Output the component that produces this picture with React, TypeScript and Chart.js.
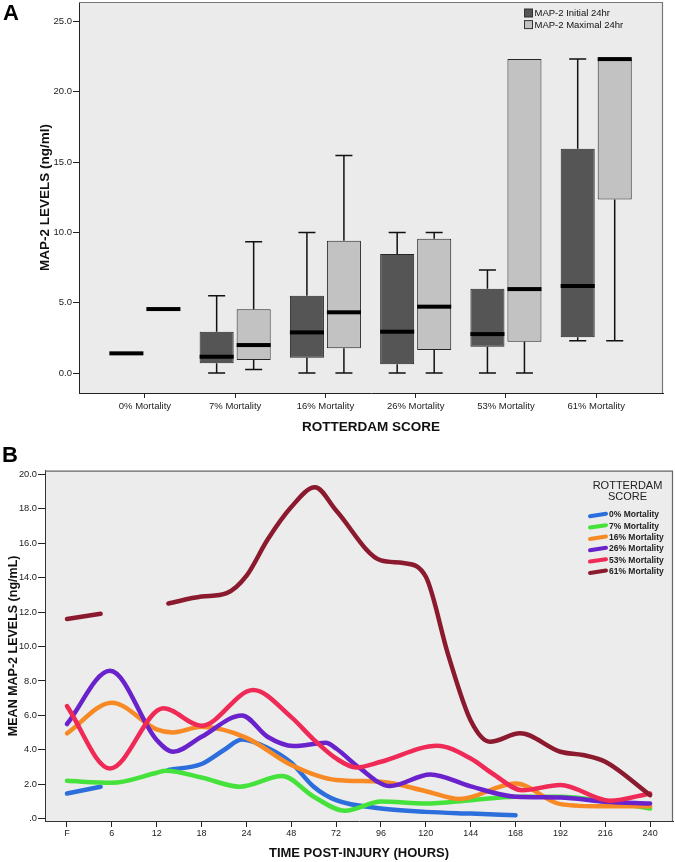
import React, { useEffect, useRef } from "react";
import { Chart, registerables } from "chart.js";

Chart.register(...registerables);

const FONT = "'Liberation Sans', Arial, Helvetica, sans-serif";

// ---------- Panel A : box plots ----------
const rotterdamCategories = ["0% Mortality", "7% Mortality", "16% Mortality", "26% Mortality", "53% Mortality", "61% Mortality"];
const initialMin = [1.4, 0.0, 0.0, 0.0, 0.0, 2.3];
const initialQ1 = [1.4, 0.69, 1.09, 0.62, 1.87, 2.54];
const initialMedian = [1.4, 1.16, 2.89, 2.94, 2.77, 6.19];
const initialQ3 = [1.4, 2.94, 5.5, 8.46, 6.0, 15.95];
const initialMax = [1.4, 5.5, 10.0, 10.0, 7.33, 22.33];
const maximalMin = [4.55, 0.26, 0.0, 0.0, 0.0, 2.3];
const maximalQ1 = [4.55, 0.92, 1.76, 1.64, 2.23, 12.35];
const maximalMedian = [4.55, 1.99, 4.32, 4.72, 5.97, 22.33];
const maximalQ3 = [4.55, 4.53, 9.41, 9.55, 22.33, 22.33];
const maximalMax = [4.55, 9.34, 15.48, 10.0, 22.33, 22.33];
const boxYTicks = [0, 5, 10, 15, 20, 25];
const boxSeriesLabels = ["MAP-2 Initial 24hr", "MAP-2 Maximal 24hr"];

// ---------- Panel B : mean levels over time ----------
const timeLabels = ["F", "6", "12", "18", "24", "48", "72", "96", "120", "144", "168", "192", "216", "240"];
const lineYTicks = [0, 2, 4, 6, 8, 10, 12, 14, 16, 18, 20];
const lineSeriesLabels = ["0% Mortality", "7% Mortality", "16% Mortality", "26% Mortality", "53% Mortality", "61% Mortality"];
const legendTitleLines = ["ROTTERDAM", "SCORE"];

const mort0Pos = [0, 0.75, 1.5, 2.26, 3, 3.5, 3.9, 4.5, 5, 5.5, 6, 7, 8, 9, 10];
const mort0Val = [1.47, 1.86, null, 2.83, 3.18, 3.99, 4.6, 4.08, 3.25, 1.86, 1.08, 0.6, 0.4, 0.3, 0.21];

const mort7Pos = [0, 1, 2, 2.2, 3, 3.85, 4.8, 5.5, 6.2, 7, 8, 9, 10, 11, 12, 13];
const mort7Val = [2.2, 2.09, 2.67, 2.79, 2.4, 1.86, 2.48, 1.28, 0.46, 1.0, 0.88, 1.08, 1.28, 1.28, 1.0, 0.6];

const mort16Pos = [0, 1, 2, 2.35, 3, 4, 5, 6, 7, 8, 8.75, 10, 11, 12, 13];
const mort16Val = [4.96, 6.74, 5.19, 5.01, 5.34, 4.7, 3.12, 2.25, 2.15, 1.6, 1.15, 2.05, 0.85, 0.72, 0.72];

const mort26Pos = [0, 0.96, 2, 2.37, 3, 3.9, 4.47, 5.05, 5.77, 6, 6.5, 7.2, 8.1, 9, 10, 11, 12, 13];
const mort26Val = [5.5, 8.59, 4.57, 3.89, 4.76, 6.0, 4.76, 4.22, 4.41, 4.08, 3.0, 1.9, 2.57, 1.88, 1.28, 1.24, 0.99, 0.89];

const mort53Pos = [0, 0.96, 2.15, 3, 4.15, 5, 5.5, 6, 6.45, 7, 8.25, 9, 9.5, 10.15, 11, 12.1, 13];
const mort53Val = [6.54, 2.92, 6.41, 5.4, 7.47, 5.9, 4.6, 3.5, 2.98, 3.31, 4.24, 3.5, 2.6, 1.66, 1.96, 1.05, 1.47];

const mort61Pos = [0, 0.75, 1.5, 2.26, 3, 3.56, 4, 4.47, 5, 5.53, 6, 7, 7.5, 8, 8.5, 9, 9.43, 10.1, 11, 11.5, 12, 13];
const mort61Val = [11.6, 11.9, null, 12.5, 12.9, 13.1, 14.1, 16.2, 18.1, 19.25, 17.9, 15.0, 14.85, 14.05, 9.5, 5.7, 4.47, 4.96, 3.89, 3.7, 3.31, 1.37];

const linePositions = [mort0Pos, mort7Pos, mort16Pos, mort26Pos, mort53Pos, mort61Pos];
const lineValues = [mort0Val, mort7Val, mort16Val, mort26Val, mort53Val, mort61Val];
const lineColors = ["#2c6fdc", "#44e23a", "#f78a24", "#6a22cc", "#f02a57", "#8c1a2e"];

// ---------- helpers ----------
const zeroPad = (s: any) => {
  s.paddingTop = 0;
  s.paddingBottom = 0;
  s.paddingLeft = 0;
  s.paddingRight = 0;
};

const bgPlugin = (fill: string) => ({
  id: "plotBg",
  beforeDraw(chart: any) {
    const { ctx, chartArea: a } = chart;
    ctx.save();
    ctx.fillStyle = "#ffffff";
    ctx.fillRect(0, 0, chart.width, chart.height);
    ctx.fillStyle = fill;
    ctx.fillRect(a.left, a.top, a.right - a.left, a.bottom - a.top);
    ctx.restore();
  },
});

const framePlugin = (color: string) => ({
  id: "plotFrame",
  afterDraw(chart: any) {
    const { ctx, chartArea: a } = chart;
    ctx.save();
    ctx.strokeStyle = color;
    ctx.lineWidth = 1.2;
    ctx.beginPath();
    ctx.moveTo(a.left, a.top + 0.5);
    ctx.lineTo(a.right - 0.5, a.top + 0.5);
    ctx.lineTo(a.right - 0.5, a.bottom);
    ctx.stroke();
    ctx.restore();
  },
});

const panelLabel = (text: string, x: number, y: number) => ({
  id: "panelLabel",
  afterDraw(chart: any) {
    const ctx = chart.ctx;
    ctx.save();
    ctx.fillStyle = "#000";
    ctx.font = `bold 22px ${FONT}`;
    ctx.textAlign = "left";
    ctx.textBaseline = "alphabetic";
    ctx.fillText(text, x, y);
    ctx.restore();
  },
});

const boxStats = [
  { min: initialMin, q1: initialQ1, med: initialMedian, q3: initialQ3, max: initialMax },
  { min: maximalMin, q1: maximalQ1, med: maximalMedian, q3: maximalQ3, max: maximalMax },
];

const boxWhiskerPlugin = {
  id: "boxWhisker",
  afterDatasetsDraw(chart: any) {
    const { ctx } = chart;
    const ys = chart.scales.y;
    ctx.save();
    boxStats.forEach((st, di) => {
      const meta = chart.getDatasetMeta(di);
      meta.data.forEach((bar: any, i: number) => {
        const cx = bar.x;
        const w = bar.width;
        const pMin = ys.getPixelForValue(st.min[i]);
        const pQ1 = ys.getPixelForValue(st.q1[i]);
        const pQ3 = ys.getPixelForValue(st.q3[i]);
        const pMax = ys.getPixelForValue(st.max[i]);
        const pMed = ys.getPixelForValue(st.med[i]);
        ctx.strokeStyle = "#111";
        ctx.lineWidth = 1.5;
        ctx.beginPath();
        if (st.max[i] > st.q3[i]) {
          ctx.moveTo(cx, pQ3);
          ctx.lineTo(cx, pMax);
          ctx.moveTo(cx - w / 4, pMax);
          ctx.lineTo(cx + w / 4, pMax);
        }
        if (st.min[i] < st.q1[i]) {
          ctx.moveTo(cx, pQ1);
          ctx.lineTo(cx, pMin);
          ctx.moveTo(cx - w / 4, pMin);
          ctx.lineTo(cx + w / 4, pMin);
        }
        ctx.stroke();
        ctx.fillStyle = "#000";
        ctx.fillRect(cx - w / 2, pMed - 2, w, 4);
      });
    });
    ctx.restore();
  },
};

const boxLegendPlugin = {
  id: "boxLegend",
  afterDraw(chart: any) {
    const { ctx, chartArea: a } = chart;
    ctx.save();
    ctx.font = `9.5px ${FONT}`;
    ctx.textBaseline = "middle";
    ctx.textAlign = "left";
    chart.data.datasets.forEach((ds: any, i: number) => {
      const x = a.right - 138.5;
      const y = a.top + 7 + i * 11.6;
      ctx.fillStyle = ds.backgroundColor;
      ctx.fillRect(x, y, 8, 8);
      ctx.strokeStyle = "#333";
      ctx.lineWidth = 1;
      ctx.strokeRect(x, y, 8, 8);
      ctx.fillStyle = "#111";
      ctx.fillText(ds.label, x + 10, y + 4.5);
    });
    ctx.restore();
  },
};

const lineLegendPlugin = {
  id: "lineLegend",
  afterDraw(chart: any) {
    const { ctx, chartArea: a } = chart;
    ctx.save();
    ctx.fillStyle = "#222";
    ctx.textAlign = "center";
    ctx.textBaseline = "middle";
    ctx.font = `11px ${FONT}`;
    legendTitleLines.forEach((t, i) => ctx.fillText(t, a.right - 45.5, a.top + 15 + i * 11.3));
    ctx.font = `bold 8.5px ${FONT}`;
    ctx.textAlign = "left";
    chart.data.datasets.forEach((ds: any, i: number) => {
      const y = a.top + 44.3 + i * 11.35;
      const x0 = a.right - 83;
      ctx.strokeStyle = ds.borderColor;
      ctx.lineWidth = 4;
      ctx.lineCap = "round";
      ctx.beginPath();
      ctx.moveTo(x0, y + 1.2);
      ctx.lineTo(x0 + 16, y - 1.2);
      ctx.stroke();
      ctx.fillStyle = "#222";
      ctx.fillText(ds.label, x0 + 19, y);
    });
    ctx.restore();
  },
};

function boxConfig(): any {
  const mk = (q1: number[], q3: number[]) => rotterdamCategories.map((_, i) => ({ x: i, y: [q1[i], q3[i]] }));
  const common = {
    borderColor: "#262626",
    borderWidth: 1,
    borderSkipped: false,
    categoryPercentage: 0.82,
    barPercentage: 0.92,
  };
  return {
    type: "bar",
    data: {
      datasets: [
        { label: boxSeriesLabels[0], data: mk(initialQ1, initialQ3), backgroundColor: "#555555", ...common },
        { label: boxSeriesLabels[1], data: mk(maximalQ1, maximalQ3), backgroundColor: "#c2c2c2", ...common },
      ],
    },
    options: {
      animation: false,
      responsive: false,
      maintainAspectRatio: false,
      devicePixelRatio: 1,
      layout: { padding: { left: 0, right: 12, top: 2, bottom: 0 } },
      plugins: { legend: { display: false }, tooltip: { enabled: false } },
      scales: {
        x: {
          type: "linear",
          min: -0.73,
          max: 5.74,
          offset: false,
          afterBuildTicks: (s: any) => {
            s.ticks = rotterdamCategories.map((_, i) => ({ value: i }));
          },
          ticks: {
            callback: (v: any) => rotterdamCategories[v] ?? "",
            autoSkip: false,
            maxRotation: 0,
            padding: 3,
            font: { family: FONT, size: 9.5 },
            color: "#222",
          },
          grid: { display: true, drawOnChartArea: false, offset: false, tickLength: 5, color: "#222" },
          border: { display: true, color: "#222", width: 1 },
          title: {
            display: true,
            text: "ROTTERDAM SCORE",
            font: { family: FONT, size: 13.5, weight: "bold" },
            color: "#111",
            padding: { top: 0, bottom: 0 },
          },
          afterFit: (s: any) => {
            s.height = 42;
            zeroPad(s);
          },
        },
        y: {
          type: "linear",
          min: -1.42,
          max: 26.39,
          afterBuildTicks: (s: any) => {
            s.ticks = boxYTicks.map((v) => ({ value: v }));
          },
          ticks: {
            callback: (v: any) => Number(v).toFixed(1),
            padding: 1,
            font: { family: FONT, size: 9.5 },
            color: "#222",
          },
          grid: { display: true, drawOnChartArea: false, tickLength: 6, color: "#222" },
          border: { display: true, color: "#222", width: 1 },
          title: {
            display: true,
            text: "MAP-2 LEVELS (ng/ml)",
            font: { family: FONT, size: 13.5, weight: "bold" },
            color: "#111",
            padding: { top: 36.9, bottom: 0 },
          },
          afterFit: (s: any) => {
            s.width = 79;
            zeroPad(s);
          },
        },
      },
    },
    plugins: [bgPlugin("#ebebeb"), boxWhiskerPlugin, framePlugin("#777"), boxLegendPlugin, panelLabel("A", 3, 20)],
  };
}

function lineConfig(): any {
  const n = lineSeriesLabels.length;
  return {
    type: "line",
    data: {
      datasets: lineSeriesLabels.map((label, i) => ({
        label,
        data: linePositions[i].map((x, k) => ({ x, y: lineValues[i][k] })),
        borderColor: lineColors[i],
        backgroundColor: lineColors[i],
        borderWidth: 4.5,
        pointRadius: 0,
        pointHoverRadius: 0,
        fill: false,
        spanGaps: false,
        cubicInterpolationMode: "monotone",
        borderCapStyle: "round",
        borderJoinStyle: "round",
        order: n - 1 - i,
      })),
    },
    options: {
      animation: false,
      responsive: false,
      maintainAspectRatio: false,
      devicePixelRatio: 1,
      layout: { padding: { left: 0, right: 2, top: 35.7, bottom: 0 } },
      plugins: { legend: { display: false }, tooltip: { enabled: false } },
      scales: {
        x: {
          type: "linear",
          min: -0.49,
          max: 13.51,
          offset: false,
          afterBuildTicks: (s: any) => {
            s.ticks = timeLabels.map((_, i) => ({ value: i }));
          },
          ticks: {
            callback: (v: any) => timeLabels[v] ?? "",
            autoSkip: false,
            maxRotation: 0,
            padding: 1.6,
            font: { family: FONT, size: 9 },
            color: "#222",
          },
          grid: { display: true, drawOnChartArea: false, offset: false, tickLength: 6, color: "#222" },
          border: { display: true, color: "#333", width: 1 },
          title: {
            display: true,
            text: "TIME POST-INJURY (HOURS)",
            font: { family: FONT, size: 13, weight: "bold" },
            color: "#111",
            padding: { top: 0, bottom: 1.2 },
          },
          afterFit: (s: any) => {
            s.height = 41;
            zeroPad(s);
          },
        },
        y: {
          type: "linear",
          min: -0.13,
          max: 20.21,
          afterBuildTicks: (s: any) => {
            s.ticks = lineYTicks.map((v) => ({ value: v }));
          },
          ticks: {
            callback: (v: any) => (Number(v) === 0 ? ".0" : Number(v).toFixed(1)),
            padding: 1,
            font: { family: FONT, size: 9.3 },
            color: "#222",
          },
          grid: { display: true, drawOnChartArea: false, tickLength: 7, color: "#222" },
          border: { display: true, color: "#333", width: 1 },
          title: {
            display: true,
            text: "MEAN MAP-2 LEVELS (ng/mL)",
            font: { family: FONT, size: 12.5, weight: "bold" },
            color: "#111",
            padding: { top: 6.5, bottom: 0 },
          },
          afterFit: (s: any) => {
            s.width = 45;
            zeroPad(s);
          },
        },
      },
    },
    plugins: [bgPlugin("#ececec"), framePlugin("#666"), lineLegendPlugin, panelLabel("B", 2, 26.7)],
  };
}

export default function App() {
  const refA = useRef<HTMLCanvasElement>(null);
  const refB = useRef<HTMLCanvasElement>(null);

  useEffect(() => {
    const a = new Chart(refA.current as HTMLCanvasElement, boxConfig());
    const b = new Chart(refB.current as HTMLCanvasElement, lineConfig());
    return () => {
      a.destroy();
      b.destroy();
    };
  }, []);

  return (
    <div style={{ position: "absolute", left: 0, top: 0, width: 675, height: 862, background: "#fff", overflow: "hidden" }}>
      <canvas
        ref={refA}
        width={675}
        height={435}
        style={{ position: "absolute", left: 0, top: 0, width: 675, height: 435, display: "block" }}
      />
      <canvas
        ref={refB}
        width={675}
        height={427}
        style={{ position: "absolute", left: 0, top: 435, width: 675, height: 427, display: "block" }}
      />
    </div>
  );
}
